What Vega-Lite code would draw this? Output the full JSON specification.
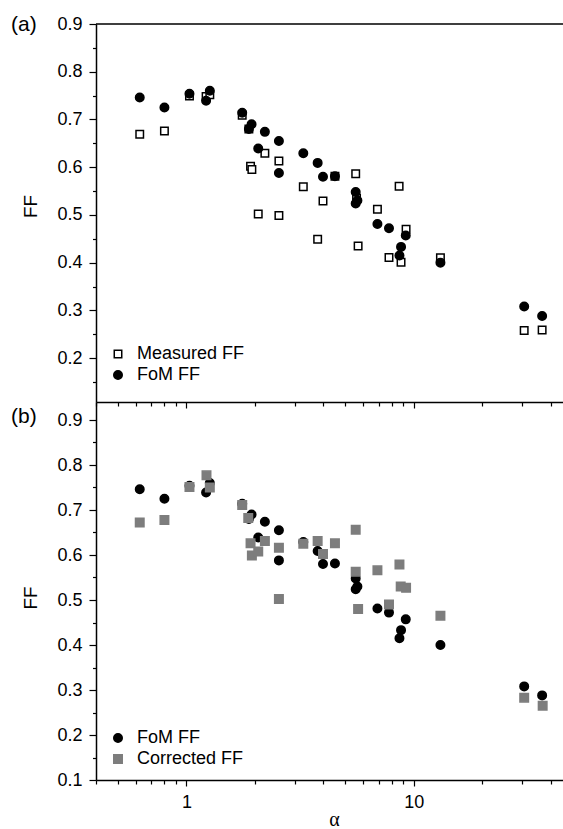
{
  "$schema": "https://vega.github.io/schema/vega-lite/v6.json",
  "padding": {"left": 10, "top": 12, "right": 0, "bottom": 0},
  "autosize": {"type": "pad"},
  "background": "white",
  "data": {"values": [
    {"alpha": 0.623, "series": "Measured FF", "FF": 0.669},
    {"alpha": 0.80, "series": "Measured FF", "FF": 0.676},
    {"alpha": 1.031, "series": "Measured FF", "FF": 0.749},
    {"alpha": 1.22, "series": "Measured FF", "FF": 0.748},
    {"alpha": 1.267, "series": "Measured FF", "FF": 0.752},
    {"alpha": 1.759, "series": "Measured FF", "FF": 0.709},
    {"alpha": 1.882, "series": "Measured FF", "FF": 0.680},
    {"alpha": 1.914, "series": "Measured FF", "FF": 0.602},
    {"alpha": 1.94, "series": "Measured FF", "FF": 0.595},
    {"alpha": 2.213, "series": "Measured FF", "FF": 0.629},
    {"alpha": 2.551, "series": "Measured FF", "FF": 0.613},
    {"alpha": 2.069, "series": "Measured FF", "FF": 0.502},
    {"alpha": 2.551, "series": "Measured FF", "FF": 0.499},
    {"alpha": 3.266, "series": "Measured FF", "FF": 0.559},
    {"alpha": 3.987, "series": "Measured FF", "FF": 0.529},
    {"alpha": 3.777, "series": "Measured FF", "FF": 0.449},
    {"alpha": 4.50, "series": "Measured FF", "FF": 0.581},
    {"alpha": 5.553, "series": "Measured FF", "FF": 0.586},
    {"alpha": 5.69, "series": "Measured FF", "FF": 0.435},
    {"alpha": 5.6, "series": "Measured FF", "FF": 0.535},
    {"alpha": 6.92, "series": "Measured FF", "FF": 0.512},
    {"alpha": 8.62, "series": "Measured FF", "FF": 0.560},
    {"alpha": 9.25, "series": "Measured FF", "FF": 0.470},
    {"alpha": 7.78, "series": "Measured FF", "FF": 0.411},
    {"alpha": 8.79, "series": "Measured FF", "FF": 0.401},
    {"alpha": 13.1, "series": "Measured FF", "FF": 0.410},
    {"alpha": 30.6, "series": "Measured FF", "FF": 0.258},
    {"alpha": 36.7, "series": "Measured FF", "FF": 0.259},
    {"alpha": 0.623, "series": "FoM FF", "FF": 0.746},
    {"alpha": 0.80, "series": "FoM FF", "FF": 0.725},
    {"alpha": 1.031, "series": "FoM FF", "FF": 0.754},
    {"alpha": 1.267, "series": "FoM FF", "FF": 0.760},
    {"alpha": 1.22, "series": "FoM FF", "FF": 0.739},
    {"alpha": 1.759, "series": "FoM FF", "FF": 0.714},
    {"alpha": 1.934, "series": "FoM FF", "FF": 0.690},
    {"alpha": 1.882, "series": "FoM FF", "FF": 0.680},
    {"alpha": 2.213, "series": "FoM FF", "FF": 0.674},
    {"alpha": 2.551, "series": "FoM FF", "FF": 0.655},
    {"alpha": 2.069, "series": "FoM FF", "FF": 0.639},
    {"alpha": 2.551, "series": "FoM FF", "FF": 0.588},
    {"alpha": 3.266, "series": "FoM FF", "FF": 0.629},
    {"alpha": 3.777, "series": "FoM FF", "FF": 0.609},
    {"alpha": 3.987, "series": "FoM FF", "FF": 0.580},
    {"alpha": 4.50, "series": "FoM FF", "FF": 0.581},
    {"alpha": 5.553, "series": "FoM FF", "FF": 0.548},
    {"alpha": 5.65, "series": "FoM FF", "FF": 0.530},
    {"alpha": 5.553, "series": "FoM FF", "FF": 0.524},
    {"alpha": 6.92, "series": "FoM FF", "FF": 0.481},
    {"alpha": 7.78, "series": "FoM FF", "FF": 0.472},
    {"alpha": 9.22, "series": "FoM FF", "FF": 0.457},
    {"alpha": 8.79, "series": "FoM FF", "FF": 0.433},
    {"alpha": 8.65, "series": "FoM FF", "FF": 0.415},
    {"alpha": 13.1, "series": "FoM FF", "FF": 0.400},
    {"alpha": 30.6, "series": "FoM FF", "FF": 0.308},
    {"alpha": 36.7, "series": "FoM FF", "FF": 0.288},
    {"alpha": 0.623, "series": "Corrected FF", "FF": 0.672},
    {"alpha": 0.80, "series": "Corrected FF", "FF": 0.678},
    {"alpha": 1.031, "series": "Corrected FF", "FF": 0.751},
    {"alpha": 1.225, "series": "Corrected FF", "FF": 0.777},
    {"alpha": 1.267, "series": "Corrected FF", "FF": 0.750},
    {"alpha": 1.759, "series": "Corrected FF", "FF": 0.711},
    {"alpha": 1.87, "series": "Corrected FF", "FF": 0.682},
    {"alpha": 1.914, "series": "Corrected FF", "FF": 0.626},
    {"alpha": 1.94, "series": "Corrected FF", "FF": 0.599},
    {"alpha": 2.069, "series": "Corrected FF", "FF": 0.608},
    {"alpha": 2.213, "series": "Corrected FF", "FF": 0.631},
    {"alpha": 2.551, "series": "Corrected FF", "FF": 0.616},
    {"alpha": 2.551, "series": "Corrected FF", "FF": 0.502},
    {"alpha": 3.266, "series": "Corrected FF", "FF": 0.625},
    {"alpha": 3.777, "series": "Corrected FF", "FF": 0.631},
    {"alpha": 3.987, "series": "Corrected FF", "FF": 0.602},
    {"alpha": 4.50, "series": "Corrected FF", "FF": 0.626},
    {"alpha": 5.553, "series": "Corrected FF", "FF": 0.656},
    {"alpha": 5.553, "series": "Corrected FF", "FF": 0.563},
    {"alpha": 5.69, "series": "Corrected FF", "FF": 0.480},
    {"alpha": 6.92, "series": "Corrected FF", "FF": 0.566},
    {"alpha": 8.65, "series": "Corrected FF", "FF": 0.579},
    {"alpha": 8.76, "series": "Corrected FF", "FF": 0.530},
    {"alpha": 9.25, "series": "Corrected FF", "FF": 0.527},
    {"alpha": 7.78, "series": "Corrected FF", "FF": 0.490},
    {"alpha": 13.1, "series": "Corrected FF", "FF": 0.465},
    {"alpha": 30.6, "series": "Corrected FF", "FF": 0.283},
    {"alpha": 36.9, "series": "Corrected FF", "FF": 0.265}
  ]},
  "spacing": 0,
  "bounds": "flush",
  "resolve": {
    "scale": {"y": "independent", "shape": "independent", "fill": "independent", "stroke": "independent", "size": "independent"},
    "legend": {"shape": "independent", "fill": "independent", "stroke": "independent", "size": "independent"}
  },
  "vconcat": [
    {
      "width": 468,
      "height": 378,
      "view": {"stroke": "black", "strokeWidth": 1.5, "strokeDash": [468, 3000]},
      "title": {"text": "(a)", "anchor": "start", "frame": "group", "orient": "top", "offset": 0, "dx": -85, "dy": 36.5, "baseline": "alphabetic", "fontSize": 21, "fontWeight": "normal", "font": "Liberation Sans", "color": "black"},
      "transform": [{"filter": {"field": "series", "oneOf": ["Measured FF", "FoM FF"]}}],
      "mark": {"type": "point", "opacity": 1, "strokeWidth": 1.5},
      "encoding": {
        "x": {"field": "alpha", "type": "quantitative",
          "scale": {"type": "log", "domain": [0.4, 45.8], "nice": false},
          "axis": {"values": [0.4, 0.5, 0.6, 0.7, 0.8, 0.9, 1, 2, 3, 4, 5, 6, 7, 8, 9, 10, 20, 30, 40], "labels": false, "title": null,
            "tickSize": {"condition": {"test": "datum.value == 1 || datum.value == 10", "value": 6}, "value": 4}}},
        "y": {"field": "FF", "type": "quantitative",
          "scale": {"domain": [0.108, 0.9], "nice": false, "zero": false},
          "axis": {"values": [0.15, 0.2, 0.25, 0.3, 0.35, 0.4, 0.45, 0.5, 0.55, 0.6, 0.65, 0.7, 0.75, 0.8, 0.85, 0.9],
            "labelExpr": "abs(datum.value*10 - round(datum.value*10)) < 0.01 ? format(datum.value, '.1f') : ''",
            "tickSize": {"condition": {"test": "abs(datum.value*10 - round(datum.value*10)) < 0.01", "value": 7}, "value": 3.5},
            "title": "FF", "titleColor": "black", "titleFontSize": 19, "titleFont": "Liberation Sans", "titleX": -65.5, "titleY": 182, "titleAngle": 270, "titleAlign": "center", "titleBaseline": "middle"}},
        "shape": {"field": "series", "type": "nominal", "scale": {"domain": ["Measured FF", "FoM FF"], "range": ["square", "circle"]},
          "legend": {"title": null, "orient": "none", "legendX": 13, "legendY": 321}},
        "fill": {"field": "series", "type": "nominal", "scale": {"domain": ["Measured FF", "FoM FF"], "range": ["white", "black"]},
          "legend": {"title": null, "orient": "none", "legendX": 13, "legendY": 321}},
        "stroke": {"field": "series", "type": "nominal", "scale": {"domain": ["Measured FF", "FoM FF"], "range": ["black", "black"]},
          "legend": {"title": null, "orient": "none", "legendX": 13, "legendY": 321}},
        "size": {"field": "series", "type": "nominal", "scale": {"domain": ["Measured FF", "FoM FF"], "range": [56, 72]},
          "legend": {"title": null, "orient": "none", "legendX": 13, "legendY": 321}}
      }
    },
    {
      "width": 468,
      "height": 378,
      "title": {"text": "(b)", "anchor": "start", "frame": "group", "orient": "top", "offset": 0, "dx": -85, "dy": 42, "baseline": "alphabetic", "fontSize": 21, "fontWeight": "normal", "font": "Liberation Sans", "color": "black"},
      "transform": [{"filter": {"field": "series", "oneOf": ["FoM FF", "Corrected FF"]}}],
      "mark": {"type": "point", "opacity": 1, "strokeWidth": 1.5},
      "encoding": {
        "x": {"field": "alpha", "type": "quantitative",
          "scale": {"type": "log", "domain": [0.4, 45.8], "nice": false},
          "axis": {"values": [0.4, 0.5, 0.6, 0.7, 0.8, 0.9, 1, 2, 3, 4, 5, 6, 7, 8, 9, 10, 20, 30, 40],
            "labelExpr": "datum.value == 1 || datum.value == 10 ? format(datum.value, 'd') : ''",
            "tickSize": {"condition": {"test": "datum.value == 1 || datum.value == 10", "value": 6}, "value": 4},
            "title": "α", "titleColor": "black", "titleFont": "Liberation Serif", "titleFontSize": 20, "titleX": 238, "titleY": 45, "titleAlign": "center", "titleBaseline": "alphabetic"}},
        "y": {"field": "FF", "type": "quantitative",
          "scale": {"domain": [0.1, 0.94], "nice": false, "zero": false},
          "axis": {"values": [0.1, 0.15, 0.2, 0.25, 0.3, 0.35, 0.4, 0.45, 0.5, 0.55, 0.6, 0.65, 0.7, 0.75, 0.8, 0.85, 0.9],
            "labelExpr": "abs(datum.value*10 - round(datum.value*10)) < 0.01 ? format(datum.value, '.1f') : ''",
            "tickSize": {"condition": {"test": "abs(datum.value*10 - round(datum.value*10)) < 0.01", "value": 7}, "value": 3.5},
            "title": "FF", "titleColor": "black", "titleFontSize": 19, "titleFont": "Liberation Sans", "titleX": -65.5, "titleY": 195.5, "titleAngle": 270, "titleAlign": "center", "titleBaseline": "middle"}},
        "shape": {"field": "series", "type": "nominal", "scale": {"domain": ["FoM FF", "Corrected FF"], "range": ["circle", "square"]},
          "legend": {"title": null, "orient": "none", "legendX": 13, "legendY": 327}},
        "fill": {"field": "series", "type": "nominal", "scale": {"domain": ["FoM FF", "Corrected FF"], "range": ["black", "#7d7d7d"]},
          "legend": {"title": null, "orient": "none", "legendX": 13, "legendY": 327}},
        "stroke": {"field": "series", "type": "nominal", "scale": {"domain": ["FoM FF", "Corrected FF"], "range": ["black", "#7d7d7d"]},
          "legend": {"title": null, "orient": "none", "legendX": 13, "legendY": 327}},
        "size": {"field": "series", "type": "nominal", "scale": {"domain": ["FoM FF", "Corrected FF"], "range": [72, 72]},
          "legend": {"title": null, "orient": "none", "legendX": 13, "legendY": 327}}
      }
    }
  ],
  "config": {
    "view": {"stroke": null},
    "font": "Liberation Sans",
    "axis": {"grid": false, "domainColor": "black", "domainWidth": 1.5, "tickColor": "black", "tickWidth": 1.2,
      "labelColor": "black", "labelFont": "Liberation Sans", "labelFontSize": 18, "labelPadding": 7,
      "titleColor": "black", "titleFontWeight": "normal", "labelOverlap": false, "labelFlush": false},
    "legend": {"labelFont": "Liberation Sans", "labelFontSize": 18, "labelColor": "black", "padding": 0, "rowPadding": 3,
      "labelOffset": 10, "symbolStrokeWidth": 1.5, "symbolOpacity": 1}
  }
}
